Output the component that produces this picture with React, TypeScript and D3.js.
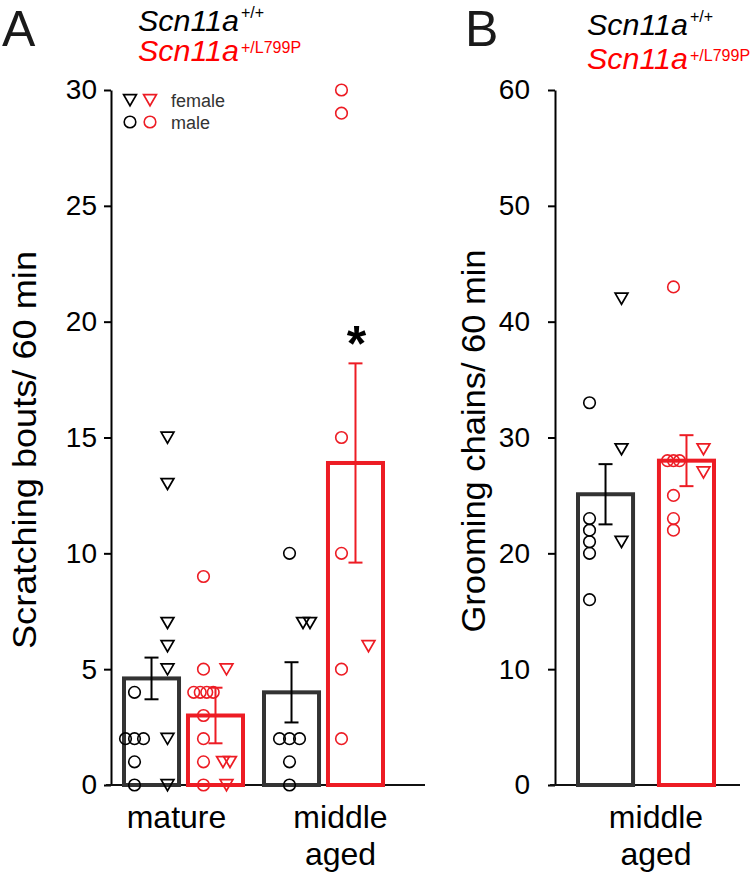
import React, { useEffect, useRef } from 'react';
import * as d3 from 'd3';

// ---- data ----
const genotypes = ['+/+', '+/L799P'];
const ageGroupsA = ['mature', 'middle aged'];
const ageGroupsB = ['middle aged'];
const ticksA = [0, 5, 10, 15, 20, 25, 30];
const ticksB = [0, 10, 20, 30, 40, 50, 60];

// panel A: scratching bouts / 60 min (mean, SEM per age group)
const scratchMeanWT = [4.6, 4.0];
const scratchSemWT = [0.9, 1.3];
const scratchMeanMut = [3.0, 13.9];
const scratchSemMut = [1.2, 4.3];

const scratchMatureWTMale = [4, 2, 2, 2, 1, 0];
const scratchMatureWTFemale = [15, 13, 7, 6, 5, 2, 0];
const scratchMatureMutMale = [9, 5, 4, 4, 4, 4, 3, 2, 1, 0];
const scratchMatureMutFemale = [5, 1, 1, 0];
const scratchMiddleWTMale = [10, 2, 2, 2, 1, 0];
const scratchMiddleWTFemale = [7, 7];
const scratchMiddleMutMale = [30, 29, 15, 10, 5, 2];
const scratchMiddleMutFemale = [6];

// panel B: grooming chains / 60 min
const groomMean = [25.1, 28.0];
const groomSem = [2.6, 2.2];
const groomWTMale = [33, 23, 22, 21, 20, 16];
const groomWTFemale = [42, 29, 21];
const groomMutMale = [43, 28, 28, 28, 25, 23, 22];
const groomMutFemale = [29, 27];

const FONT = '"Liberation Sans", Arial, Helvetica, sans-serif';
const RED = '#ed1c24';
const TEXT_RED = '#ff0000';
const BAR_DARK = '#333333';

const triPath = (x, y) => `M${x - 6.4},${y - 5.3}L${x + 6.4},${y - 5.3}L${x},${y + 5.7}Z`;

const App = () => {
  const svgRef = useRef(null);

  useEffect(() => {
    const svg = d3.select(svgRef.current);
    svg.selectAll('*').remove();

    // scatter of individual animals, equal values spread sideways
    const drawPoints = (g, values, cx, y, color, shape, spacing) => {
      const counts = d3.rollup(values, v => v.length, d => d);
      const seen = new Map();
      values.forEach(v => {
        const n = counts.get(v);
        const k = seen.get(v) || 0;
        seen.set(v, k + 1);
        const x = cx + (k - (n - 1) / 2) * spacing;
        if (shape === 'circle') {
          g.append('circle')
            .attr('cx', x).attr('cy', y(v)).attr('r', 5.8)
            .attr('fill', 'none').attr('stroke', color).attr('stroke-width', 1.6);
        } else {
          g.append('path')
            .attr('d', triPath(x, y(v)))
            .attr('fill', 'none').attr('stroke', color).attr('stroke-width', 1.7)
            .attr('stroke-linejoin', 'miter');
        }
      });
    };

    const drawErrorBar = (g, cx, mean, sem, y, color) => {
      const top = y(mean + sem);
      const bot = y(mean - sem);
      g.append('line').attr('x1', cx).attr('x2', cx).attr('y1', top).attr('y2', bot)
        .attr('stroke', color).attr('stroke-width', 2);
      [top, bot].forEach(yy => {
        g.append('line').attr('x1', cx - 7).attr('x2', cx + 7).attr('y1', yy).attr('y2', yy)
          .attr('stroke', color).attr('stroke-width', 2);
      });
    };

    const drawPanel = (cfg) => {
      const g = svg.append('g');
      const { y, x, sub, axisX, ticks, pad, sets, baseX } = cfg;

      // y axis
      g.append('g')
        .attr('transform', `translate(${axisX},0)`)
        .call(d3.axisLeft(y).tickValues(ticks).tickSize(7).tickSizeOuter(0).tickPadding(pad))
        .call(a => a.attr('font-family', FONT).attr('font-size', 28))
        .call(a => a.select('.domain').attr('stroke', '#000').attr('stroke-width', 2))
        .call(a => a.selectAll('.tick line').attr('stroke', '#000').attr('stroke-width', 2))
        .call(a => a.selectAll('.tick text').attr('fill', '#000'));

      // baseline
      g.append('line')
        .attr('x1', baseX[0]).attr('x2', baseX[1])
        .attr('y1', y(0)).attr('y2', y(0))
        .attr('stroke', '#111').attr('stroke-width', 2);

      // bars
      sets.forEach(s => {
        const x0 = x(s.group) + sub(genotypes[s.geno]);
        const color = s.geno === 0 ? BAR_DARK : RED;
        g.append('rect')
          .attr('x', x0).attr('y', y(s.mean))
          .attr('width', sub.bandwidth()).attr('height', y(0) - y(s.mean))
          .attr('fill', 'none').attr('stroke', color).attr('stroke-width', 4);
      });

      // points
      sets.forEach(s => {
        const cx = x(s.group) + sub(genotypes[s.geno]) + sub.bandwidth() / 2;
        const color = s.geno === 0 ? '#000' : RED;
        drawPoints(g, s.male, cx + s.dc, y, color, 'circle', s.sc);
        drawPoints(g, s.female, cx + s.dt, y, color, 'tri', 7);
      });

      // error bars
      sets.forEach(s => {
        const cx = x(s.group) + sub(genotypes[s.geno]) + sub.bandwidth() / 2;
        drawErrorBar(g, cx, s.mean, s.sem, y, s.geno === 0 ? '#000' : RED);
      });

      // category labels
      cfg.groups.forEach((grp, i) => {
        const cx = x(grp) + x.bandwidth() / 2 + cfg.labelShift[i];
        const words = grp === 'middle aged' ? ['middle', 'aged'] : [grp];
        words.forEach((w, j) => {
          g.append('text')
            .attr('x', cx).attr('y', 828 + j * 37)
            .attr('text-anchor', 'middle')
            .attr('font-family', FONT).attr('font-size', 32)
            .attr('fill', '#000')
            .text(w);
        });
      });

      // axis title
      g.append('text')
        .attr('transform', `translate(${cfg.titleX},${cfg.titleY}) rotate(-90)`)
        .attr('text-anchor', 'middle')
        .attr('font-family', FONT).attr('font-size', 33)
        .attr('textLength', cfg.titleLen).attr('lengthAdjust', 'spacingAndGlyphs')
        .attr('fill', '#000')
        .text(cfg.title);

      // panel letter
      g.append('text')
        .attr('x', cfg.letterX).attr('y', 45.5)
        .attr('font-family', FONT).attr('font-size', 50)
        .attr('fill', '#1a1a1a')
        .text(cfg.letter);

      // genotype key
      const key = [
        { label: genotypes[0], color: '#000', base: cfg.keyBase[0], sup: cfg.keyBase[0] - 13 },
        { label: genotypes[1], color: TEXT_RED, base: cfg.keyBase[1], sup: cfg.keyBase[1] - 8 },
      ];
      key.forEach(k => {
        g.append('text')
          .attr('x', cfg.keyX).attr('y', k.base)
          .attr('font-family', FONT).attr('font-size', 29).attr('font-style', 'italic')
          .attr('textLength', 101).attr('lengthAdjust', 'spacingAndGlyphs')
          .attr('fill', k.color)
          .text('Scn11a');
        g.append('text')
          .attr('x', cfg.keyX + 103).attr('y', k.sup)
          .attr('font-family', FONT).attr('font-size', 16)
          .attr('fill', k.color)
          .text(k.label);
      });

      return g;
    };

    // ---------- panel A ----------
    const yA = d3.scaleLinear().domain([0, 30]).range([785, 90]);
    const xA = d3.scaleBand().domain(ageGroupsA).range([124, 383]).paddingInner(0.15);
    const subA = d3.scaleBand().domain(genotypes).range([0, xA.bandwidth()]).paddingInner(0.14);

    const setsA = [
      { group: 'mature', geno: 0, mean: scratchMeanWT[0], sem: scratchSemWT[0], male: scratchMatureWTMale, female: scratchMatureWTFemale, dc: -17, dt: 16, sc: 9 },
      { group: 'mature', geno: 1, mean: scratchMeanMut[0], sem: scratchSemMut[0], male: scratchMatureMutMale, female: scratchMatureMutFemale, dc: -12, dt: 11, sc: 6.5 },
      { group: 'middle aged', geno: 0, mean: scratchMeanWT[1], sem: scratchSemWT[1], male: scratchMiddleWTMale, female: scratchMiddleWTFemale, dc: -2, dt: 15, sc: 10 },
      { group: 'middle aged', geno: 1, mean: scratchMeanMut[1], sem: scratchSemMut[1], male: scratchMiddleMutMale, female: scratchMiddleMutFemale, dc: -14, dt: 13, sc: 9 },
    ];

    const gA = drawPanel({
      y: yA, x: xA, sub: subA, axisX: 111, ticks: ticksA, pad: 7, sets: setsA,
      baseX: [106, 425], groups: ageGroupsA, labelShift: [-7, 17],
      title: 'Scratching bouts/ 60 min', titleX: 36, titleY: 450, titleLen: 398,
      letter: 'A', letterX: 2, keyX: 138, keyBase: [31, 61],
    });

    // significance mark above mutant middle-aged bar
    const mut = setsA[3];
    gA.append('text')
      .attr('x', xA(mut.group) + subA(genotypes[1]) + subA.bandwidth() / 2 + 1)
      .attr('y', yA(mut.mean + mut.sem) - 2)
      .attr('text-anchor', 'middle')
      .attr('font-family', FONT).attr('font-size', 50).attr('font-weight', 'bold')
      .attr('fill', '#000')
      .text('*');

    // sex legend
    const leg = gA.append('g');
    [['tri', 100, 'female'], ['circle', 122, 'male']].forEach(([shape, ly, label]) => {
      ['#000', RED].forEach((c, i) => {
        const lx = 130 + i * 20;
        if (shape === 'circle') {
          leg.append('circle').attr('cx', lx).attr('cy', ly).attr('r', 5.8)
            .attr('fill', 'none').attr('stroke', c).attr('stroke-width', 1.6);
        } else {
          leg.append('path').attr('d', triPath(lx, ly))
            .attr('fill', 'none').attr('stroke', c).attr('stroke-width', 1.7);
        }
      });
      leg.append('text')
        .attr('x', 171).attr('y', ly + 6.5)
        .attr('font-family', FONT).attr('font-size', 18)
        .attr('fill', '#333')
        .text(label);
    });

    // ---------- panel B ----------
    const yB = d3.scaleLinear().domain([0, 60]).range([785, 90]);
    const xB = d3.scaleBand().domain(ageGroupsB).range([578, 714]);
    const subB = d3.scaleBand().domain(genotypes).range([0, xB.bandwidth()]).paddingInner(0.32);

    const setsB = [
      { group: 'middle aged', geno: 0, mean: groomMean[0], sem: groomSem[0], male: groomWTMale, female: groomWTFemale, dc: -16, dt: 16, sc: 8 },
      { group: 'middle aged', geno: 1, mean: groomMean[1], sem: groomSem[1], male: groomMutMale, female: groomMutFemale, dc: -13, dt: 17, sc: 6 },
    ];

    drawPanel({
      y: yB, x: xB, sub: subB, axisX: 555, ticks: ticksB, pad: 18, sets: setsB,
      baseX: [550, 740], groups: ageGroupsB, labelShift: [10],
      title: 'Grooming chains/ 60 min', titleX: 485, titleY: 441, titleLen: 383,
      letter: 'B', letterX: 465, keyX: 587, keyBase: [35, 69],
    });
  }, []);

  return (
    <div style={{ position: 'absolute', left: 0, top: 0 }}>
      <svg ref={svgRef} width={750} height={873} style={{ display: 'block', background: '#fff' }} />
    </div>
  );
};

export default App;
